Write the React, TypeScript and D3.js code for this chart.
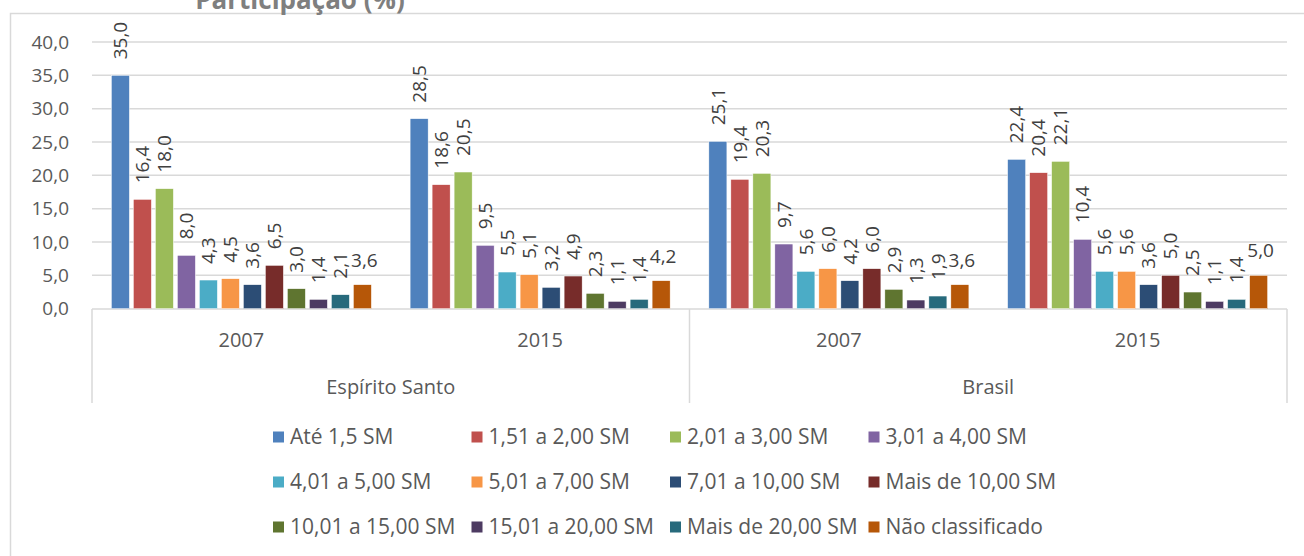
import React from 'react';
import * as d3 from 'd3';

const regions = ['Espírito Santo', 'Brasil'];
const years = ['2007', '2015'];
const seriesNames = [
  'Até 1,5 SM', '1,51 a 2,00 SM', '2,01 a 3,00 SM', '3,01 a 4,00 SM',
  '4,01 a 5,00 SM', '5,01 a 7,00 SM', '7,01 a 10,00 SM', 'Mais de 10,00 SM',
  '10,01 a 15,00 SM', '15,01 a 20,00 SM', 'Mais de 20,00 SM', 'Não classificado',
];
const es2007 = [35.0, 16.4, 18.0, 8.0, 4.3, 4.5, 3.6, 6.5, 3.0, 1.4, 2.1, 3.6];
const es2015 = [28.5, 18.6, 20.5, 9.5, 5.5, 5.1, 3.2, 4.9, 2.3, 1.1, 1.4, 4.2];
const br2007 = [25.1, 19.4, 20.3, 9.7, 5.6, 6.0, 4.2, 6.0, 2.9, 1.3, 1.9, 3.6];
const br2015 = [22.4, 20.4, 22.1, 10.4, 5.6, 5.6, 3.6, 5.0, 2.5, 1.1, 1.4, 5.0];
const yTicks = [0, 5, 10, 15, 20, 25, 30, 35, 40];

const colors = [
  '#4F81BD', '#C0504D', '#9BBB59', '#8064A2', '#4BACC6', '#F79646',
  '#2C4D75', '#772C2A', '#5F7530', '#4D3B62', '#276A7C', '#B65708',
];

const groups = [
  { region: regions[0], year: years[0], values: es2007 },
  { region: regions[0], year: years[1], values: es2015 },
  { region: regions[1], year: years[0], values: br2007 },
  { region: regions[1], year: years[1], values: br2015 },
];

const W = 1304;
const H = 556;
const font = '"Open Sans", sans-serif';
const grid = '#d9d9d9';
const fmt = (v: number) => v.toFixed(1).replace('.', ',');

export default function App() {
  const left = 92;
  const right = 1287;
  const x0 = d3.scaleBand<number>().domain(d3.range(groups.length)).range([left, right]);
  const x1 = d3.scaleBand<number>().domain(d3.range(seriesNames.length))
    .range([-132, 132]).paddingInner(0.18).paddingOuter(0.09);
  const y = d3.scaleLinear().domain([0, 40]).range([308.7, 42]);
  const axisY = 309;
  const regionBand = d3.scaleBand<string>().domain(regions).range([left, right]);

  return (
    <svg width={W} height={H} style={{ position: 'absolute', left: 0, top: 0, background: '#fff' }}
      fontFamily={font}>
      <rect x={10.5} y={13.5} width={1400} height={700} fill="none" stroke={grid} strokeWidth={1.5} />
      {/* title is partly cut off at the top, as in the original */}
      <text x={300} y={9} textAnchor="middle" fontSize={26} fontWeight="bold" fill="#7f7f7f">
        Participação (%)
      </text>
      {yTicks.map(t => (
        <g key={t}>
          {t > 0 && <line x1={left} x2={right} y1={y(t)} y2={y(t)} stroke={grid} strokeWidth={1.5} />}
          <text x={69} y={y(t)} dy="0.35em" textAnchor="end" fontSize={19} fill="#595959">{fmt(t)}</text>
        </g>
      ))}
      {/* category axis */}
      <line x1={left} x2={right} y1={axisY} y2={axisY} stroke={grid} strokeWidth={1.5} />
      {[left, regionBand(regions[1])!, right].map((xx, i) => (
        <line key={i} x1={xx} x2={xx} y1={axisY} y2={403} stroke={grid} strokeWidth={1.5} />
      ))}
      {groups.map((g, gi) => {
        const cx = x0(gi)! + x0.bandwidth() / 2;
        return (
          <g key={gi}>
            <text x={cx} y={340} dy="0.35em" textAnchor="middle" fontSize={20} fill="#595959">{g.year}</text>
            {g.values.map((v, si) => {
              const bx = cx + x1(si)!;
              const bw = x1.bandwidth();
              const top = y(v);
              const mx = bx + bw / 2;
              return (
                <g key={si}>
                  <rect x={bx} y={top} width={bw} height={y(0) - top} fill={colors[si]}
                    stroke="#fff" strokeWidth={0.5} />
                  {si === seriesNames.length - 1 ? (
                    <text x={mx + 2} y={top - 18} textAnchor="middle" fontSize={19} fill="#404040">{fmt(v)}</text>
                  ) : (
                    <text transform={`translate(${mx},${top - 16}) rotate(-90)`} dy="0.35em"
                      textAnchor="start" fontSize={19} fill="#404040">{fmt(v)}</text>
                  )}
                </g>
              );
            })}
          </g>
        );
      })}
      {regions.map(r => (
        <text key={r} x={regionBand(r)! + regionBand.bandwidth() / 2} y={387} dy="0.35em"
          textAnchor="middle" fontSize={20} fill="#595959">{r}</text>
      ))}
      {/* legend */}
      {seriesNames.map((s, i) => {
        const col = i % 4;
        const row = Math.floor(i / 4);
        const lx = 273 + col * 198.5;
        const ly = 437 + row * 45;
        return (
          <g key={s}>
            <rect x={lx} y={ly - 5.5} width={11} height={11} fill={colors[i]} />
            <text x={lx + 17} y={ly} dy="0.35em" fontSize={21} fill="#595959">{s}</text>
          </g>
        );
      })}
    </svg>
  );
}
